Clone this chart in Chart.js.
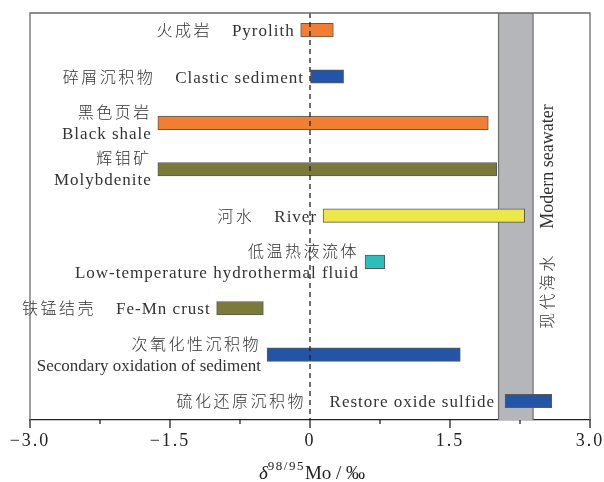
<!DOCTYPE html>
<html>
<head>
<meta charset="utf-8">
<script src="https://cdn.jsdelivr.net/npm/chart.js@4.4.1/dist/chart.umd.min.js"></script>
<style>
  html,body{margin:0;padding:0;background:#fff;}
  canvas{display:block;}
</style>
</head>
<body>
<canvas id="moChart" width="604" height="482"></canvas>
<script>
/* ===== data ===== */
const cnNames=["火成岩","碎屑沉积物","黑色页岩","辉钼矿","河水","低温热液流体","铁锰结壳","次氧化性沉积物","硫化还原沉积物"];
const enNames=["Pyrolith","Clastic sediment","Black shale","Molybdenite","River","Low-temperature hydrothermal fluid","Fe-Mn crust","Secondary oxidation of sediment","Restore oxide sulfide"];
const lowVals =[-0.10, 0.00,-1.63,-1.63, 0.14, 0.59,-1.00,-0.46, 2.09];
const highVals=[ 0.25, 0.36, 1.91, 2.00, 2.30, 0.80,-0.50, 1.61, 2.59];
const seawater=[2.02,2.39];
const seaNames=["现代海水","Modern seawater"];
const xMin=-3, xMax=3, majorStep=1.5, minorStep=0.75;

/* ===== look ===== */
const barColors=["#f27f31","#2354a5","#f27f31","#7a7a3a","#ece84a","#2bbeba","#7a7a3a","#2354a5","#2354a5"];
// how the two names sit next to each bar
const labelMode=["inline","inline","stack","stack","inline","stack","inline","stack","split"];
const enTrack=[1,1,1,1,1,1,1,0,1];
const SERIF="'Liberation Serif','Times New Roman',serif";
const CJK="'Noto Sans CJK SC','Noto Sans CJK JP',sans-serif";
const INK="#333", AXIS="#222";

function txt(ctx,s,x,y,font,align,base,sp){
  ctx.font=font; ctx.textAlign=align; ctx.textBaseline=base; ctx.letterSpacing=(sp||0)+"px";
  ctx.fillText(s,x,y);
}
function width(ctx,s,font,sp){
  ctx.font=font; ctx.letterSpacing=(sp||0)+"px"; return ctx.measureText(s).width;
}
const isMajor=(v)=>Math.abs(v/majorStep-Math.round(v/majorStep))<1e-6;

const decor={
  id:"decor",
  beforeDraw(c){ c.ctx.letterSpacing="2px"; },   // tick labels are spaced out a bit
  beforeDatasetsDraw(c){
    const {ctx,chartArea:a,scales:{x}}=c;
    ctx.letterSpacing="0px";
    const l=x.getPixelForValue(seawater[0]), r=x.getPixelForValue(seawater[1]);
    ctx.save();
    ctx.fillStyle="#b5b6ba"; ctx.fillRect(l,a.top,r-l,a.bottom-a.top);
    ctx.strokeStyle="#6e6e6e"; ctx.lineWidth=1.2;
    ctx.beginPath(); ctx.moveTo(l,a.top); ctx.lineTo(l,a.bottom); ctx.moveTo(r,a.top); ctx.lineTo(r,a.bottom); ctx.stroke();
    ctx.restore();
  },
  afterDatasetsDraw(c){
    const {ctx,chartArea:a,scales:{x,y}}=c;
    const x0=x.getPixelForValue(0);
    ctx.save();
    // zero line
    ctx.strokeStyle=AXIS; ctx.lineWidth=1.3; ctx.setLineDash([5,4]);
    ctx.beginPath(); ctx.moveTo(x0,a.top); ctx.lineTo(x0,a.bottom); ctx.stroke();
    ctx.setLineDash([]);
    // names
    ctx.fillStyle=INK;
    const fEn="17px "+SERIF, fCn="300 16px "+CJK;
    cnNames.forEach((cn,i)=>{
      const yc=y.getPixelForValue(i), xs=x.getPixelForValue(lowVals[i]);
      const en=enNames[i], sp=enTrack[i];
      if(labelMode[i]==="inline"){
        const w=width(ctx,en,fEn,sp);
        txt(ctx,en,xs-6,yc+6,fEn,"right","alphabetic",sp);
        txt(ctx,cn,xs-6-w-20,yc,fCn,"right","middle",2.5);
      }else if(labelMode[i]==="stack"){
        txt(ctx,cn,xs-6,yc-11,fCn,"right","middle",2.5);
        txt(ctx,en,xs-6,yc+16,fEn,"right","alphabetic",sp);
      }else{
        txt(ctx,cn,x0-4,yc,fCn,"right","middle",2.5);
        txt(ctx,en,xs-10,yc+6,fEn,"right","alphabetic",sp);
      }
    });
    ctx.restore();
  },
  afterDraw(c){
    const {ctx,chartArea:a,scales:{x}}=c;
    ctx.save();
    ctx.letterSpacing="0px";
    // frame (bottom edge is the axis)
    ctx.strokeStyle="#6a6a6a"; ctx.lineWidth=1.3;
    ctx.beginPath(); ctx.moveTo(a.left,a.bottom); ctx.lineTo(a.left,a.top); ctx.lineTo(a.right,a.top); ctx.lineTo(a.right,a.bottom); ctx.stroke();
    // tick marks: long at majors, short at minors
    ctx.strokeStyle=AXIS; ctx.lineWidth=1.3;
    x.ticks.forEach(t=>{
      const px=x.getPixelForValue(t.value), len=isMajor(t.value)?8:4;
      ctx.beginPath(); ctx.moveTo(px,a.bottom); ctx.lineTo(px,a.bottom+len); ctx.stroke();
    });
    // axis title  δ98/95Mo / ‰
    const parts=[["δ","italic 19px "+SERIF,0],["98/95","13px "+SERIF,-9],["Mo","19px "+SERIF,0],[" / ","19px "+SERIF,0],["‰","19px "+SERIF,0]];
    const ws=parts.map(p=>width(ctx,p[0],p[1],p[0]==="98/95"?1.5:0));
    let px=(a.left+a.right)/2+2-ws.reduce((s,w)=>s+w,0)/2;
    ctx.fillStyle=AXIS;
    parts.forEach((p,i)=>{ txt(ctx,p[0],px,479+p[2],p[1],"left","alphabetic",p[0]==="98/95"?1.5:0); px+=ws[i]; });
    // seawater band caption, rotated
    const r=x.getPixelForValue(seawater[1]);
    const fC="300 16px "+CJK, fE="18px "+SERIF;
    const wc=width(ctx,seaNames[0],fC,3), we=width(ctx,seaNames[1],fE,0), gap=24;
    ctx.translate(r+14,(a.top+a.bottom)/2); ctx.rotate(-Math.PI/2);
    ctx.fillStyle=INK;
    const s0=-(wc+gap+we)/2;
    txt(ctx,seaNames[0],s0,0,fC,"left","middle",3);
    txt(ctx,seaNames[1],s0+wc+gap,1,fE,"left","middle",0);
    ctx.restore();
  }
};

new Chart(document.getElementById("moChart").getContext("2d"),{
  type:"bar",
  data:{
    datasets:[{
      data:lowVals.map((lo,i)=>({x:[lo,highVals[i]],y:i})),
      backgroundColor:barColors,
      borderColor:"#5a5a5a",
      borderWidth:1,
      borderSkipped:false,
      barThickness:13.5
    }]
  },
  options:{
    indexAxis:"y",
    responsive:false,
    devicePixelRatio:1,
    animation:false,
    layout:{padding:{left:30,right:14,top:13,bottom:0}},
    plugins:{legend:{display:false},tooltip:{enabled:false}},
    scales:{
      x:{
        type:"linear",min:xMin,max:xMax,
        ticks:{
          stepSize:minorStep,autoSkip:false,maxRotation:0,padding:10,color:AXIS,
          font:{family:SERIF,size:18},
          callback(v){ if(!isMajor(v)) return ""; if(Math.abs(v)<1e-9) return "0"; return (v<0?"−":"")+Math.abs(v).toFixed(1); }
        },
        grid:{drawOnChartArea:false,drawTicks:false},
        border:{display:true,color:AXIS,width:1.3},
        afterFit(s){ s.height=62; s.paddingLeft=0; s.paddingRight=0; }
      },
      y:{type:"linear",reverse:true,offset:false,min:-0.37,max:8.41,display:false}
    }
  },
  plugins:[decor]
});
</script>
</body>
</html>
